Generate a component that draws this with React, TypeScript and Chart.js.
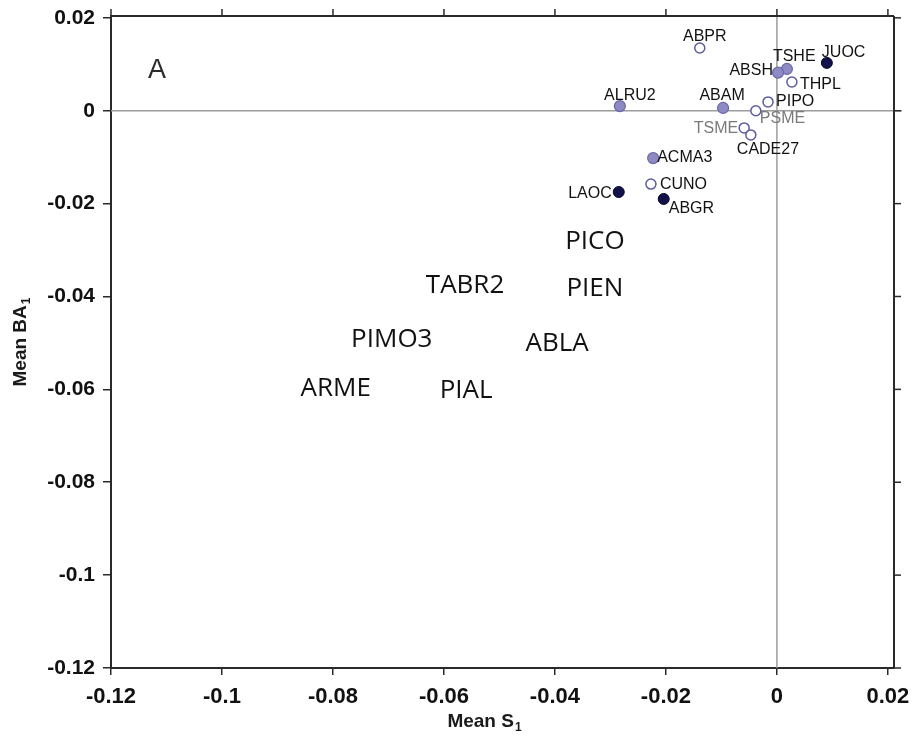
import React, { useEffect, useRef } from "react";
import { Chart, registerables } from "chart.js";

Chart.register(...registerables);

// ---- data ----
const darkNames = ["JUOC", "LAOC", "ABGR"];
const darkX = [0.009, -0.0285, -0.0204];
const darkY = [0.0103, -0.0175, -0.019];

const lightNames = ["TSHE", "ABSH", "ABAM", "ALRU2", "ACMA3"];
const lightX = [0.0018, 0.0002, -0.0097, -0.0283, -0.0223];
const lightY = [0.009, 0.0082, 0.0006, 0.001, -0.0102];

const openNames = ["ABPR", "THPL", "PIPO", "PSME", "TSME", "CADE27", "CUNO"];
const openX = [-0.0139, 0.0027, -0.0016, -0.0038, -0.0059, -0.0047, -0.0227];
const openY = [0.0135, 0.0062, 0.0019, 0.0, -0.0037, -0.0052, -0.0158];

const hiddenNames = ["PICO", "PIEN", "TABR2", "PIMO3", "ABLA", "ARME", "PIAL"];
const hiddenX = [-0.0328, -0.0328, -0.0562, -0.0694, -0.0396, -0.0795, -0.056];
const hiddenY = [-0.0278, -0.0379, -0.0373, -0.0489, -0.0497, -0.0593, -0.0599];

const xTicks = [-0.12, -0.1, -0.08, -0.06, -0.04, -0.02, 0, 0.02];
const yTicks = [0.02, 0, -0.02, -0.04, -0.06, -0.08, -0.1, -0.12];

const panelLetter = "A";
const xTitle = ["Mean S", "1"];
const yTitle = ["Mean BA", "1"];

// ---- label styling (placement relative to marker, in px) ----
const labelPlacement: Record<string, [CanvasTextAlign, number, number, string?]> = {
  ABPR: ["center", 5, -13],
  TSHE: ["left", -14, -14],
  ABSH: ["right", -5, -3],
  JUOC: ["left", -5, -12],
  THPL: ["left", 8, 1],
  PIPO: ["left", 8, -2],
  PSME: ["left", 4, 7, "#7a7a7a"],
  TSME: ["right", -6, -1, "#7a7a7a"],
  CADE27: ["left", -14, 13],
  ABAM: ["center", -1, -14],
  ALRU2: ["center", 10, -12],
  ACMA3: ["left", 4, -2],
  CUNO: ["left", 9, -1],
  LAOC: ["right", -7, 0],
  ABGR: ["left", 5, 8],
};

const SANS = "'Liberation Sans', Arial, sans-serif";

const fmt = (v: number) => (Math.abs(v) < 1e-9 ? "0" : String(parseFloat(v.toFixed(2))));

function line(ctx: CanvasRenderingContext2D, x1: number, y1: number, x2: number, y2: number) {
  ctx.beginPath();
  ctx.moveTo(x1, y1);
  ctx.lineTo(x2, y2);
  ctx.stroke();
}

function drawSubTitle(ctx: CanvasRenderingContext2D, parts: string[], cx: number, baseline: number) {
  ctx.font = `bold 19px ${SANS}`;
  const w1 = ctx.measureText(parts[0]).width;
  ctx.font = `bold 12px ${SANS}`;
  const w2 = ctx.measureText(parts[1]).width;
  const start = cx - (w1 + w2 + 1) / 2;
  ctx.textAlign = "left";
  ctx.textBaseline = "alphabetic";
  ctx.font = `bold 19px ${SANS}`;
  ctx.fillText(parts[0], start, baseline);
  ctx.font = `bold 12px ${SANS}`;
  ctx.fillText(parts[1], start + w1 + 1, baseline + 4);
}

const overlayPlugin = {
  id: "overlay",
  beforeDatasetsDraw(chart: any) {
    const { ctx, chartArea: a, scales } = chart;
    const x = scales.x;
    const y = scales.y;
    ctx.save();
    // zero reference lines
    ctx.strokeStyle = "#9c9c9c";
    ctx.lineWidth = 1.5;
    const x0 = x.getPixelForValue(0);
    const y0 = y.getPixelForValue(0);
    line(ctx, x0, a.top, x0, a.bottom);
    line(ctx, a.left, y0, a.right + 8, y0);
    // top and right frame
    ctx.strokeStyle = "#2a2a2a";
    ctx.lineWidth = 2;
    line(ctx, a.left, a.top, a.right, a.top);
    line(ctx, a.right, a.top, a.right, a.bottom);
    ctx.lineWidth = 1.5;
    for (const v of xTicks) {
      const px = x.getPixelForValue(v);
      line(ctx, px, a.top, px, a.top - 7);
    }
    for (const v of yTicks) {
      const py = y.getPixelForValue(v);
      line(ctx, a.right, py, a.right + 7, py);
    }
    // panel letter
    ctx.fillStyle = "#2b2b2b";
    ctx.font = `27px ${SANS}`;
    ctx.textAlign = "center";
    ctx.textBaseline = "alphabetic";
    ctx.fillText(panelLetter, a.left + 46, a.top + 62);
    // axis titles
    ctx.fillStyle = "#1a1a1a";
    drawSubTitle(ctx, xTitle, (a.left + a.right) / 2 - 18, a.bottom + 59);
    ctx.translate(19, (a.top + a.bottom) / 2);
    ctx.rotate(-Math.PI / 2);
    drawSubTitle(ctx, yTitle, 0, 7);
    ctx.restore();
  },
  afterDatasetsDraw(chart: any) {
    const { ctx } = chart;
    ctx.save();
    chart.data.datasets.forEach((ds: any, di: number) => {
      const meta = chart.getDatasetMeta(di);
      const names: string[] = ds.names;
      meta.data.forEach((el: any, i: number) => {
        const name = names[i];
        if (ds.big) {
          ctx.font = `26px 'Open Sans', 'Noto Sans', sans-serif`;
          ctx.fillStyle = "#111";
          ctx.textAlign = "center";
          ctx.textBaseline = "alphabetic";
          ctx.fillText(name, el.x, el.y + 9.5);
          return;
        }
        const p = labelPlacement[name] || ["left", 8, 0];
        ctx.font = `16px ${SANS}`;
        ctx.fillStyle = p[3] || "#121212";
        ctx.textAlign = p[0];
        ctx.textBaseline = "alphabetic";
        ctx.fillText(name, el.x + p[1], el.y + p[2] + 5.7);
      });
    });
    ctx.restore();
  },
};

const pts = (xs: number[], ys: number[]) => xs.map((v, i) => ({ x: v, y: ys[i] }));

export default function App() {
  const ref = useRef<HTMLCanvasElement | null>(null);
  useEffect(() => {
    if (!ref.current) return;
    const tickFont = { family: SANS, weight: "bold" as const };
    const chart = new Chart(ref.current, {
      type: "scatter",
      data: {
        datasets: [
          {
            data: pts(openX, openY),
            names: openNames,
            pointRadius: 5,
            pointBackgroundColor: "#ffffff",
            pointBorderColor: "#5d5c9e",
            pointBorderWidth: 1.5,
          } as any,
          {
            data: pts(lightX, lightY),
            names: lightNames,
            pointRadius: 5.5,
            pointBackgroundColor: "#8d8ac4",
            pointBorderColor: "#6b68a6",
            pointBorderWidth: 1.2,
          } as any,
          {
            data: pts(darkX, darkY),
            names: darkNames,
            pointRadius: 5.5,
            pointBackgroundColor: "#12124a",
            pointBorderColor: "#06062e",
            pointBorderWidth: 1,
          } as any,
          {
            data: pts(hiddenX, hiddenY),
            names: hiddenNames,
            big: true,
            pointRadius: 0,
            pointHoverRadius: 0,
          } as any,
        ],
      },
      options: {
        animation: false,
        responsive: false,
        events: [],
        layout: { padding: { left: 0, top: 16, right: 22, bottom: 0 } },
        plugins: { legend: { display: false }, tooltip: { enabled: false } },
        scales: {
          x: {
            type: "linear",
            min: -0.12,
            max: 0.0211,
            afterBuildTicks: (s: any) => {
              s.ticks = xTicks.map((v) => ({ value: v }));
            },
            afterFit: (s: any) => {
              s.height = 71;
              s.paddingLeft = 0;
              s.paddingRight = 0;
            },
            grid: { drawOnChartArea: false, drawTicks: true, tickLength: 7, color: "#2a2a2a", lineWidth: 1.5 },
            border: { display: true, color: "#2a2a2a", width: 2 },
            ticks: {
              autoSkip: false,
              maxRotation: 0,
              padding: 9,
              color: "#111",
              font: { ...tickFont, size: 22 },
              callback: (v: any) => fmt(Number(v)),
            },
          },
          y: {
            type: "linear",
            min: -0.12,
            max: 0.0204,
            afterBuildTicks: (s: any) => {
              s.ticks = yTicks.map((v) => ({ value: v }));
            },
            afterFit: (s: any) => {
              s.width = 111;
              s.paddingTop = 0;
              s.paddingBottom = 0;
            },
            grid: { drawOnChartArea: false, drawTicks: true, tickLength: 8, color: "#2a2a2a", lineWidth: 1.5 },
            border: { display: true, color: "#2a2a2a", width: 2 },
            ticks: {
              autoSkip: false,
              padding: 8,
              color: "#111",
              font: { ...tickFont, size: 21 },
              callback: (v: any) => fmt(Number(v)),
            },
          },
        },
      },
      plugins: [overlayPlugin],
    } as any);
    return () => chart.destroy();
  }, []);
  return (
    <div style={{ position: "fixed", left: 0, top: 0, width: 916, height: 739, background: "#fff" }}>
      <canvas ref={ref} width={916} height={739} style={{ display: "block" }} />
    </div>
  );
}
